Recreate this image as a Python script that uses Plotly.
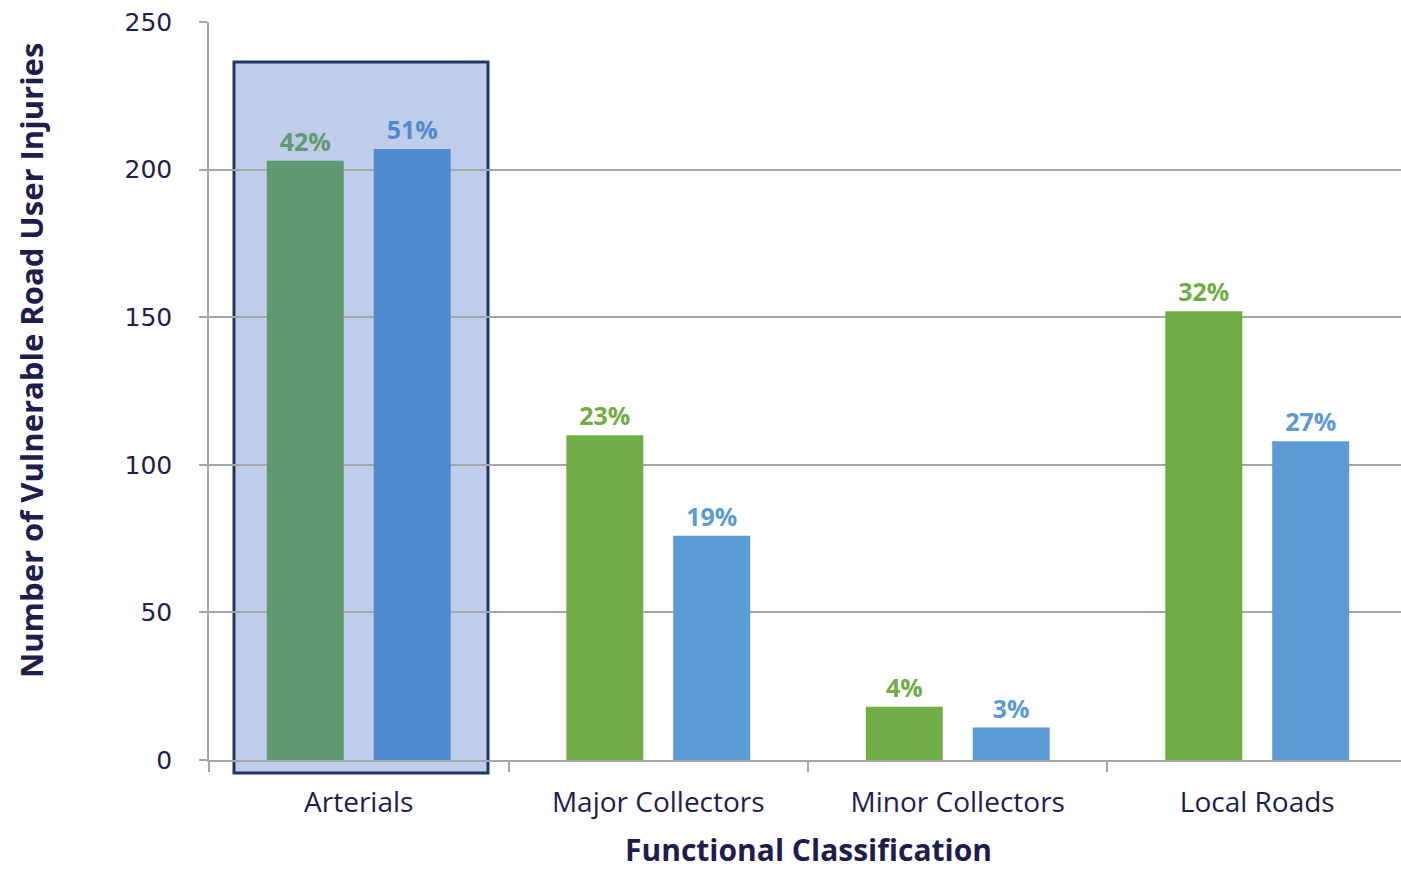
import plotly.graph_objects as go

categories = ["Arterials", "Major Collectors", "Minor Collectors", "Local Roads"]
series_a_values = [203, 110, 18, 152]
series_b_values = [207, 76, 11, 108]
series_a_pct = ["42%", "23%", "4%", "32%"]
series_b_pct = ["51%", "19%", "3%", "27%"]
y_ticks = [0, 50, 100, 150, 200, 250]

green = "#70AD47"
blue = "#5B9BD5"
green_hl = "#5F9970"
blue_hl = "#508ACE"
navy = "#1F1D4D"

W, H = 1401, 869
L, T, B = 209, 22, 109

fig = go.Figure()
fig.add_trace(go.Bar(
    x=categories, y=series_a_values, text=series_a_pct,
    textposition="outside", cliponaxis=False,
    marker=dict(color=[green_hl, green, green, green], line=dict(width=0)),
    textfont=dict(family="Open Sans", size=25, color=[green_hl, green, green, green], weight="bold"),
    offset=-0.307, width=0.257, showlegend=False,
))
fig.add_trace(go.Bar(
    x=categories, y=series_b_values, text=series_b_pct,
    textposition="outside", cliponaxis=False,
    marker=dict(color=[blue_hl, blue, blue, blue], line=dict(width=0)),
    textfont=dict(family="Open Sans", size=25, color=[blue_hl, blue, blue, blue], weight="bold"),
    offset=0.050, width=0.257, showlegend=False,
))

plot_w = W - L
plot_h = H - T - B

def px_x(px):
    return (px - L) / plot_w

def px_y(py):
    return (H - B - py) / plot_h

fig.add_shape(type="rect", xref="paper", yref="paper",
              x0=px_x(234), x1=px_x(488), y0=px_y(773), y1=px_y(62),
              fillcolor="#BFCDEA", line=dict(color="#1F3864", width=3),
              layer="below")

fig.update_layout(
    width=W, height=H,
    margin=dict(l=L, r=0, t=T, b=B, pad=0),
    paper_bgcolor="white", plot_bgcolor="rgba(0,0,0,0)",
    barmode="group",
    font=dict(family="Open Sans", color=navy),
    xaxis=dict(
        type="category", range=[-0.5, 3.48],
        showline=True, linecolor="#A6A6A6", linewidth=2,
        ticks="outside", tickson="boundaries", ticklen=10, tickcolor="#A6A6A6", tickwidth=1.5,
        tickfont=dict(family="Open Sans", size=28, color=navy),
        ticklabelstandoff=16,
        showgrid=False,
    ),
    yaxis=dict(
        range=[0, 250], tickvals=y_ticks,
        showline=True, linecolor="#A6A6A6", linewidth=1.5,
        ticks="outside", ticklen=8, tickcolor="#A6A6A6", tickwidth=1.5,
        tickfont=dict(family="DejaVu Sans", size=25, color=navy),
        ticklabelstandoff=22,
        showgrid=True, gridcolor="#A6A6A6", gridwidth=1.5,
        zeroline=False,
    ),
    annotations=[
        dict(text="<b>Number of Vulnerable Road User Injuries</b>", xref="paper", yref="paper",
             x=px_x(31), y=px_y(361), textangle=-90, showarrow=False,
             font=dict(family="Open Sans", size=31, color=navy), xanchor="center", yanchor="middle"),
        dict(text="<b>Functional Classification</b>", xref="paper", yref="paper",
             x=px_x(808), y=px_y(849), showarrow=False,
             font=dict(family="Open Sans", size=30, color=navy), xanchor="center", yanchor="middle"),
    ],
)

fig.write_html("out.html", config={"displayModeBar": False},
               post_script="document.body.style.margin='0';document.body.style.overflow='hidden';")
